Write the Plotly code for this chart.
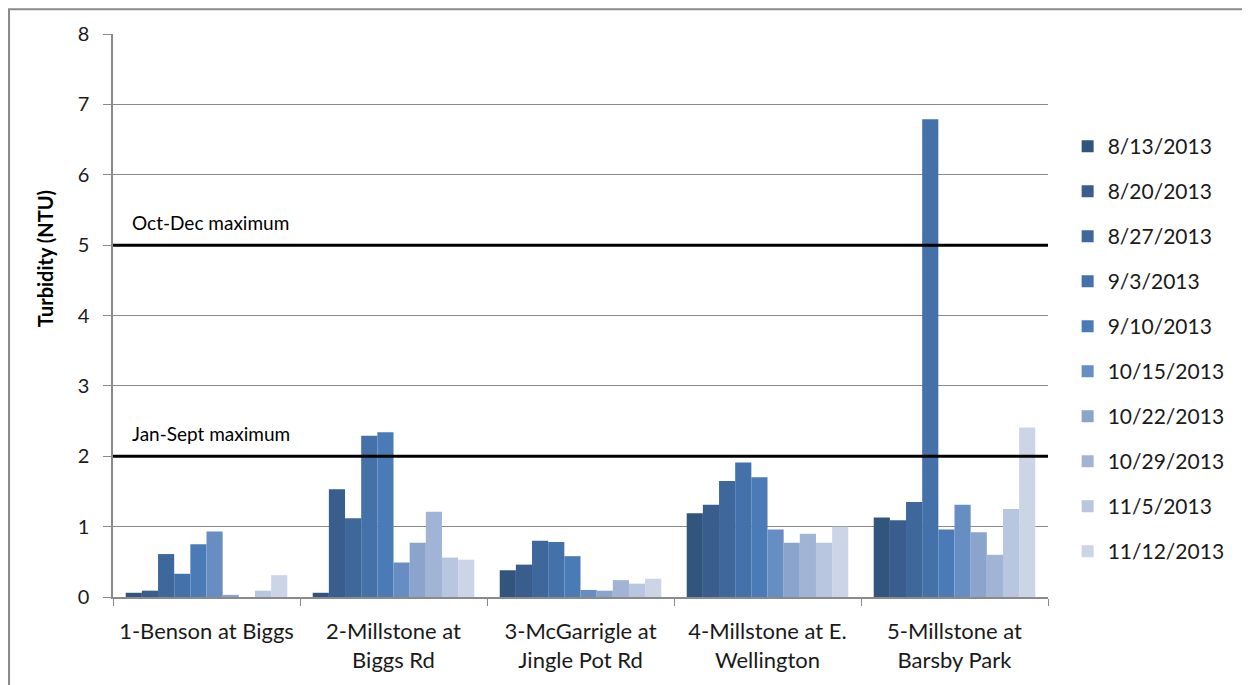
import plotly.graph_objects as go

# Turbidity by site and sampling date
sites = [
    "1-Benson at Biggs",
    "2-Millstone at<br>Biggs Rd",
    "3-McGarrigle at<br>Jingle Pot Rd",
    "4-Millstone at E.<br>Wellington",
    "5-Millstone at<br>Barsby Park",
]
dates = ["8/13/2013", "8/20/2013", "8/27/2013", "9/3/2013", "9/10/2013",
         "10/15/2013", "10/22/2013", "10/29/2013", "11/5/2013", "11/12/2013"]

# values per date, one per site
v_0813 = [0.06, 0.06, 0.38, 1.19, 1.13]
v_0820 = [0.09, 1.53, 0.46, 1.31, 1.09]
v_0827 = [0.61, 1.12, 0.80, 1.65, 1.35]
v_0903 = [0.33, 2.29, 0.78, 1.91, 6.79]
v_0910 = [0.75, 2.34, 0.58, 1.70, 0.96]
v_1015 = [0.93, 0.49, 0.10, 0.96, 1.31]
v_1022 = [0.03, 0.77, 0.09, 0.77, 0.92]
v_1029 = [None, 1.21, 0.24, 0.90, 0.60]
v_1105 = [0.09, 0.56, 0.19, 0.77, 1.25]
v_1112 = [0.31, 0.53, 0.26, 1.00, 2.41]
series = [v_0813, v_0820, v_0827, v_0903, v_0910,
          v_1015, v_1022, v_1029, v_1105, v_1112]

colors = ['#32557e', '#395e8d', '#3e679b', '#4471a9', '#4a7bb6',
          '#678ec2', '#8aa4cc', '#a2b4d5', '#b9c6df', '#ccd5e6']

oct_dec_max = 5
jan_sept_max = 2

font_family = "Lato, Open Sans, sans-serif"

fig = go.Figure()

for i, (d, vals) in enumerate(zip(dates, series)):
    fig.add_trace(go.Bar(
        x=sites, y=vals, name=d,
        marker=dict(color=colors[i], line=dict(width=0)),
        legendgroup=d,
    ))

# guideline maxima
for yv in [oct_dec_max, jan_sept_max]:
    fig.add_shape(type='line', xref='paper', yref='y', x0=0, x1=1,
                  y0=yv, y1=yv, line=dict(color='black', width=3))

fig.add_annotation(text="Oct-Dec maximum", xref='paper', yref='y',
                   x=0.018, y=oct_dec_max, yshift=23, xanchor='left',
                   showarrow=False, font=dict(size=19, color='black'))
fig.add_annotation(text="Jan-Sept maximum", xref='paper', yref='y',
                   x=0.018, y=jan_sept_max, yshift=23, xanchor='left',
                   showarrow=False, font=dict(size=19, color='black'))

# y-axis title (Excel places it above the plot centre)
fig.add_annotation(text="<b>Turbidity (NTU)</b>", xref='paper', yref='paper',
                   x=-0.0727, y=0.60, textangle=-90, showarrow=False,
                   xanchor='center', yanchor='middle',
                   font=dict(size=20, color='black'))

# outer chart border (partly off-page)
fig.add_shape(type='rect', xref='paper', yref='paper',
              x0=-0.1112, x1=1.3, y0=-0.3, y1=1.044,
              line=dict(color='#8a8a8a', width=2), layer='below')

fig.update_layout(
    width=1242, height=677,
    margin=dict(l=105, r=202, t=26, b=88),
    paper_bgcolor='white', plot_bgcolor='white',
    font=dict(family=font_family, color='#1a1a1a'),
    barmode='group', bargap=0.136, bargroupgap=0,
    showlegend=True,
    legend=dict(x=1.021, y=0.8366, xanchor='left', yanchor='top',
                font=dict(size=21), tracegroupgap=14.7,
                itemwidth=30, bgcolor='rgba(0,0,0,0)'),
    xaxis=dict(showline=True, linecolor='#8a8a8a', linewidth=1.5,
               ticks='outside', ticklen=7, tickcolor='#8a8a8a',
               tickson='boundaries', tickfont=dict(size=22),
               ticklabelstandoff=14),
    yaxis=dict(range=[0, 8], dtick=1, showgrid=True, gridcolor='#8a8a8a',
               gridwidth=1, showline=True, linecolor='#8a8a8a', linewidth=1.5,
               ticks='outside', ticklen=8, tickcolor='#8a8a8a',
               tickfont=dict(size=20), zeroline=False, ticklabelstandoff=10),
)

fig.write_html("out.html")
